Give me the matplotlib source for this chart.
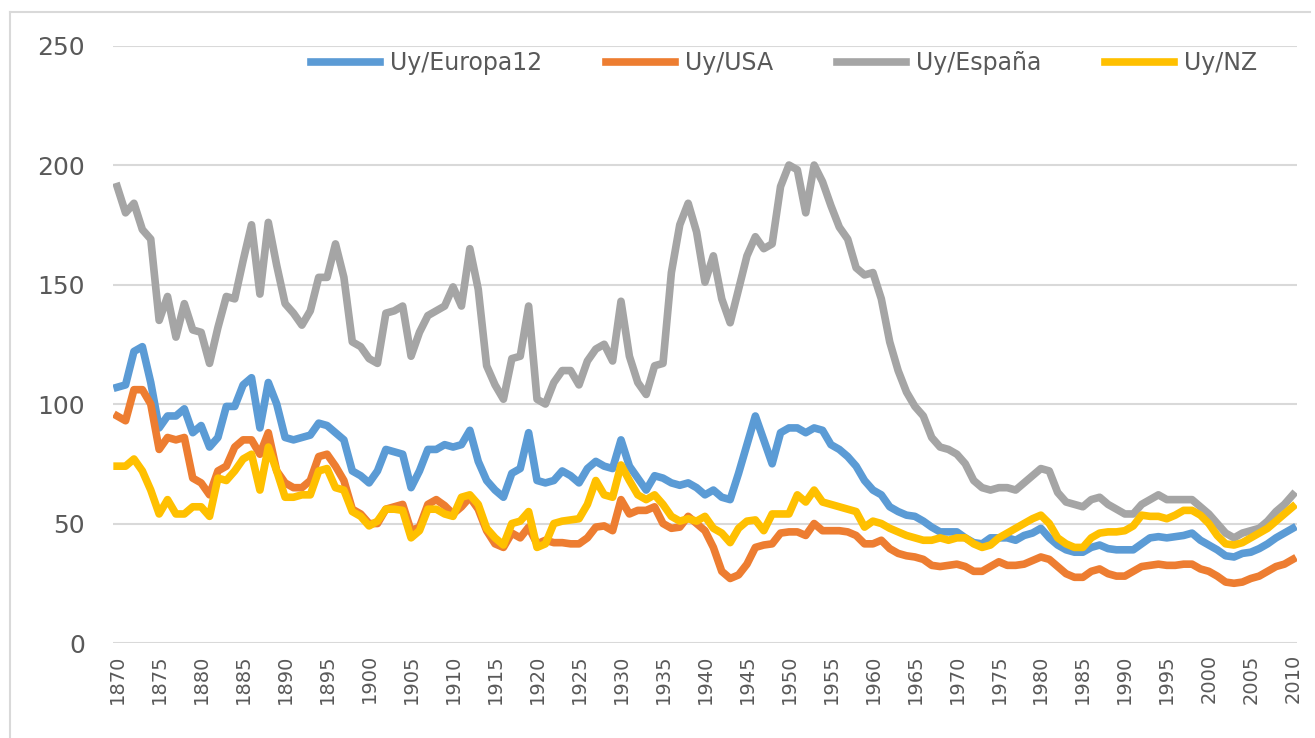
import matplotlib
matplotlib.use("Agg")
import matplotlib.pyplot as plt
import numpy as np
from matplotlib.lines import Line2D

years = np.arange(1870, 2011)

europa12 = [107, 108, 122, 124, 109, 90, 95, 95, 98, 88,
            91, 82, 86, 99, 99, 108, 111, 90, 109, 100,
            86, 85, 86, 87, 92, 91, 88, 85, 72, 70,
            67, 72, 81, 80, 79, 65, 72, 81, 81, 83,
            82, 83, 89, 76, 68, 64, 61, 71, 73, 88,
            68, 67, 68, 72, 70, 67, 73, 76, 74, 73,
            85, 74, 69, 64, 70, 69, 67, 66, 67, 65,
            62, 64, 61, 60, 71, 83, 95, 85, 75, 88,
            90, 90, 88, 90, 89, 83, 81, 78, 74, 68,
            64, 62, 57, 55, 53.5, 53, 51, 48.5, 46.5, 46.5,
            46.5, 44, 42, 41.5, 44, 44, 44, 43, 45, 46,
            48, 44, 41, 39, 38, 38, 40, 41, 39.5, 39,
            39, 39, 41.5, 44, 44.5, 44, 44.5, 45, 46, 43,
            41, 39, 36.5, 36, 37.5, 38, 39.5, 41.5, 44, 46,
            48]

usa = [95, 93, 106, 106, 100, 81, 86, 85, 86, 69,
       67, 62, 72, 74, 82, 85, 85, 79, 88, 72,
       67, 65, 65, 68, 78, 79, 74, 68, 56, 54,
       50, 50, 56, 57, 58, 47, 48.5, 58, 60, 57.5,
       54, 57, 61, 56, 47, 41.5, 40, 46, 44, 48.5,
       41.5, 43, 42, 42, 41.5, 41.5, 44, 48.5, 49, 47,
       60, 54, 55.5, 55.5, 57, 50, 48, 48.5, 53, 50,
       47, 40, 30, 27, 28.5, 33, 40, 41, 41.5, 46,
       46.5, 46.5, 45, 50, 47, 47, 47, 46.5, 45, 41.5,
       41.5, 43, 39.5, 37.5, 36.5, 36, 35, 32.5, 32, 32.5,
       33, 32, 30, 30, 32, 34, 32.5, 32.5, 33, 34.5,
       36, 35, 32, 29, 27.5, 27.5, 30, 31, 29, 28,
       28, 30, 32, 32.5, 33, 32.5, 32.5, 33, 33, 31,
       30, 28, 25.5, 25, 25.5, 27, 28, 30, 32, 33,
       35]

espana = [191, 180, 184, 173, 169, 135, 145, 128, 142, 131,
          130, 117, 132, 145, 144, 160, 175, 146, 176, 158,
          142, 138, 133, 139, 153, 153, 167, 153, 126, 124,
          119, 117, 138, 139, 141, 120, 130, 137, 139, 141,
          149, 141, 165, 148, 116, 108, 102, 119, 120, 141,
          102, 100, 109, 114, 114, 108, 118, 123, 125, 118,
          143, 120, 109, 104, 116, 117, 155, 175, 184, 172,
          151, 162, 144, 134, 148, 162, 170, 165, 167, 191,
          200, 198, 180, 200, 193, 183, 174, 169, 157, 154,
          155, 144, 126, 114, 105, 99, 95, 86, 82, 81,
          79, 75, 68, 65, 64, 65, 65, 64, 67, 70,
          73, 72, 63, 59, 58, 57, 60, 61, 58, 56,
          54, 54, 58, 60, 62, 60, 60, 60, 60, 57,
          54, 50, 46, 44, 46, 47, 48, 51, 55, 58,
          62]

nz = [74, 74, 77, 72, 64, 54, 60, 54, 54, 57,
      57, 53, 69, 68, 72, 77, 79, 64, 82, 72,
      61, 61, 62, 62, 72, 73, 65, 64, 55, 53,
      49, 51, 56, 56, 55.5, 44, 47, 56, 56, 54,
      53, 61, 62, 58, 48, 44, 41, 50, 51, 55,
      40, 41.5, 50, 51, 51.5, 52, 58, 68, 62, 61,
      74.5, 68, 62, 60, 62, 58, 53, 51, 52, 51,
      53, 48, 46, 42, 48, 51, 51.5, 47, 54, 54,
      54, 62, 59, 64, 59, 58, 57, 56, 55, 48.5,
      51, 50, 48, 46.5, 45, 44, 43, 43, 44, 43,
      44, 44, 41.5, 40, 41, 44, 46, 48, 50, 52,
      53.5, 50, 44, 41.5, 40, 40, 44, 46, 46.5, 46.5,
      47, 49, 53.5, 53, 53, 52, 53.5, 55.5, 55.5, 53.5,
      50, 45, 41.5, 41, 42, 44, 46, 48, 51, 54,
      57]

series = [("Uy/Europa12", europa12, "#5B9BD5"),
          ("Uy/USA", usa, "#ED7D31"),
          ("Uy/España", espana, "#A5A5A5"),
          ("Uy/NZ", nz, "#FFC000")]

plt.rcParams['font.family'] = ['DejaVu Sans']

fig = plt.figure(figsize=(13.15, 7.38), dpi=100)
ax = fig.add_axes([0.0859, 0.1287, 0.9004, 0.8096])

for name, vals, col in series:
    ax.plot(years, vals, color=col, lw=5.5, label=name, solid_joinstyle='round')

ax.set_xlim(1869.5, 2010.5)
ax.set_ylim(0, 250)
ax.set_yticks(np.arange(0, 251, 50))
ax.set_xticks(np.arange(1870, 2011, 5))
ax.set_xticklabels([str(y) for y in range(1870, 2011, 5)], rotation=90)
ax.tick_params(axis='both', length=0, colors='#595959')
ax.tick_params(axis='y', labelsize=18, pad=20)
ax.tick_params(axis='x', labelsize=14, pad=8)
ax.grid(axis='y', color='#D9D9D9', lw=1.5)
ax.set_axisbelow(True)
for s in ax.spines.values():
    s.set_visible(False)

leg = ax.legend(loc='center', bbox_to_anchor=(0.567, 0.97), ncol=4, frameon=False,
                fontsize=17, handlelength=2.9, columnspacing=2.7, handletextpad=0.45)
for t in leg.get_texts():
    t.set_color('#595959')

# chart frame
fig.add_artist(Line2D([10 / 1315, 1310 / 1315], [1 - 12 / 738, 1 - 12 / 738],
                      transform=fig.transFigure, color='#D9D9D9', lw=1.5))
fig.add_artist(Line2D([10 / 1315, 10 / 1315], [0, 1 - 12 / 738],
                      transform=fig.transFigure, color='#D9D9D9', lw=1.5))

fig.savefig("out.png", dpi=100)
